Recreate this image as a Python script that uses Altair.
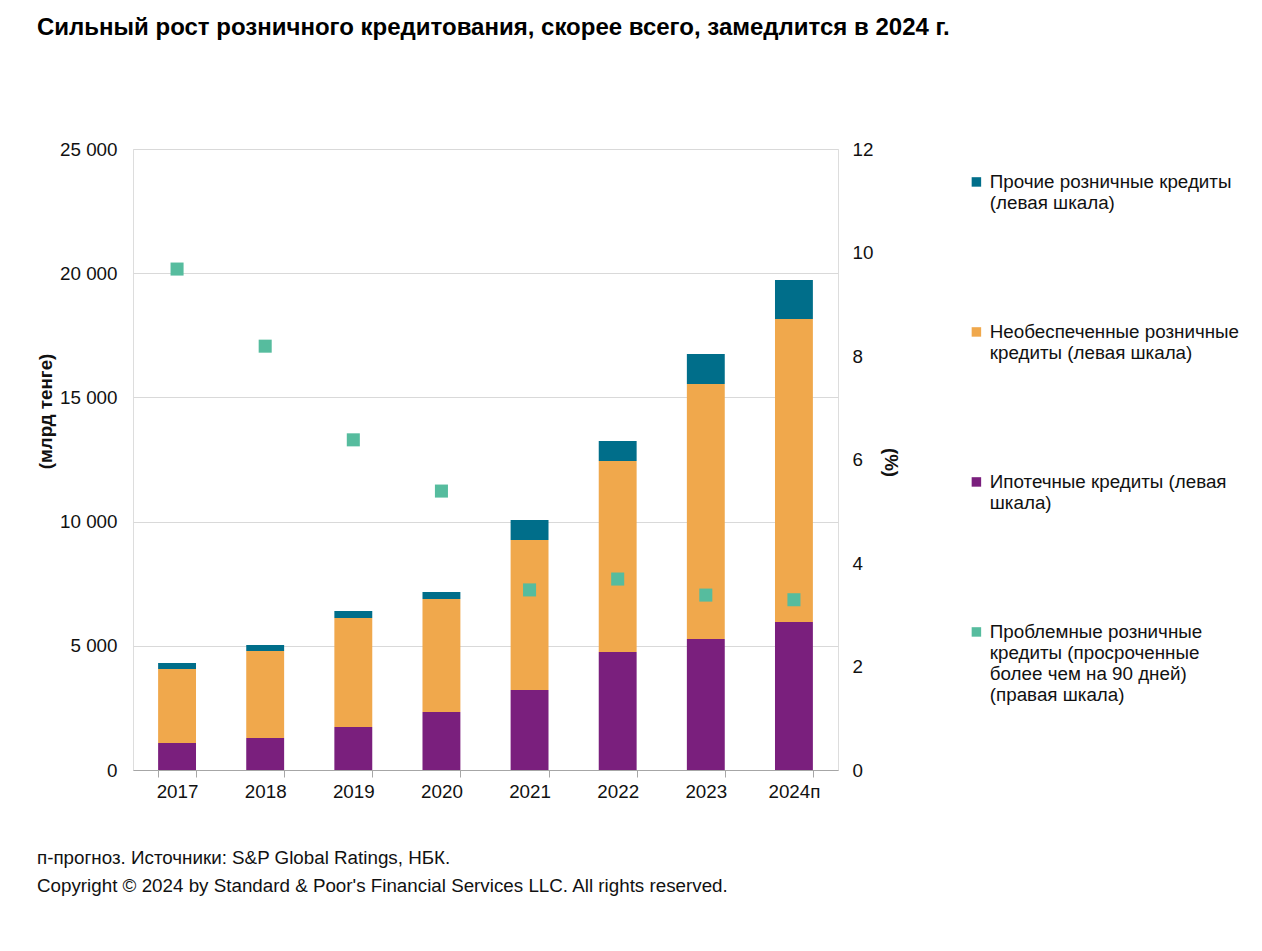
import altair as alt
import pandas as pd

years = ["2017", "2018", "2019", "2020", "2021", "2022", "2023", "2024п"]
mortgage = [1090, 1290, 1730, 2335, 3220, 4750, 5270, 5960]
unsecured = [2976, 3500, 4390, 4545, 6040, 7690, 10270, 12200]
other = [244, 240, 280, 285, 805, 805, 1210, 1570]
npl = [9.68, 8.19, 6.38, 5.39, 3.48, 3.69, 3.38, 3.29]

s_other = "Прочие розничные кредиты|(левая шкала)"
s_unsec = "Необеспеченные розничные|кредиты (левая шкала)"
s_mort = "Ипотечные кредиты (левая|шкала)"
s_npl = "Проблемные розничные|кредиты (просроченные|более чем на 90 дней)|(правая шкала)"
domain = [s_other, s_unsec, s_mort, s_npl]
colors = ["#006E8A", "#F0A84C", "#7A1F7D", "#56BC9E"]

rows = []
for i, y in enumerate(years):
    rows.append({"year": y, "series": s_mort, "value": mortgage[i], "ord": 0})
    rows.append({"year": y, "series": s_unsec, "value": unsecured[i], "ord": 1})
    rows.append({"year": y, "series": s_other, "value": other[i], "ord": 2})
bars_df = pd.DataFrame(rows)
npl_df = pd.DataFrame({"year": years, "series": s_npl, "npl": npl})

FONT = "Liberation Sans"
FS = 18.8

xenc = alt.X("year:N", sort=years, title=None,
             scale=alt.Scale(paddingInner=0.57, paddingOuter=0.285),
             axis=alt.Axis(labelAngle=0, labelFontSize=FS, labelFont=FONT, labelColor="#111",
                           domainColor="#A6A6A6", tickColor="#A6A6A6", tickSize=7, grid=False,
                           tickBand="extent", labelPadding=5))

color = alt.Color("series:N", scale=alt.Scale(domain=domain, range=colors),
                  legend=alt.Legend(title=None, orient="none", legendX=834, legendY=15,
                                    symbolType="M-1,0.8H1V2.8H-1Z", symbolSize=90,
                                    symbolStrokeWidth=0,
                                    labelFontSize=FS, labelFont=FONT, labelColor="#111",
                                    labelLimit=0, labelExpr="split(datum.label, '|')",
                                    labelBaseline="top", labelOffset=4,
                                    rowPadding=59, gridAlign="all", direction="vertical"))

bars = alt.Chart(bars_df).mark_bar().encode(
    x=xenc,
    y=alt.Y("value:Q", stack="zero", title="(млрд тенге)",
            scale=alt.Scale(domain=[0, 25000]),
            axis=alt.Axis(values=[0, 5000, 10000, 15000, 20000, 25000],
                          labelExpr="replace(format(datum.value, ','), ',', ' ')",
                          labelFontSize=FS, labelFont=FONT, labelColor="#111", labelPadding=16,
                          ticks=False, domain=False, gridColor="#D9D9D9",
                          titleFontSize=FS, titleFont=FONT, titleFontWeight="bold",
                          titleColor="#111", titleAngle=-90, titleX=-88, titleY=262,
                          titleAlign="center", titleBaseline="middle")),
    color=color,
    order=alt.Order("ord:Q"),
)

points = alt.Chart(npl_df).mark_point(shape="square", filled=True, size=170, opacity=1).encode(
    x=alt.X("year:N", sort=years),
    y=alt.Y("npl:Q", title="(%)", scale=alt.Scale(domain=[0, 12]),
            axis=alt.Axis(orient="right", values=[0, 2, 4, 6, 8, 10, 12], grid=False,
                          labelFontSize=FS, labelFont=FONT, labelColor="#111", labelPadding=14,
                          ticks=False, domain=False,
                          titleFontSize=FS, titleFont=FONT, titleFontWeight="bold",
                          titleColor="#111", titleAngle=90, titleX=52, titleY=313,
                          titleAlign="center", titleBaseline="middle")),
    color=color,
)

notes_df = pd.DataFrame({"t": ["п-прогноз. Источники: S&P Global Ratings, НБК."]})
note1 = alt.Chart(notes_df).mark_text(align="left", baseline="middle", fontSize=FS, font=FONT,
                                      color="#111").encode(
    x=alt.value(-96), y=alt.value(709), text="t:N")
notes_df2 = pd.DataFrame({"t": ["Copyright © 2024 by Standard & Poor's Financial Services LLC. All rights reserved."]})
note2 = alt.Chart(notes_df2).mark_text(align="left", baseline="middle", fontSize=FS, font=FONT,
                                       color="#111").encode(
    x=alt.value(-96), y=alt.value(737), text="t:N")

chart = alt.layer(bars, points, note1, note2).resolve_scale(y="independent").properties(
    width=705, height=621,
    autosize=alt.AutoSizeParams(type="none"),
    padding={"left": 125, "top": 141, "right": 410, "bottom": 150},
    title=alt.TitleParams("Сильный рост розничного кредитования, скорее всего, замедлится в 2024 г.",
                          anchor="start", dx=-96, offset=100, fontSize=24, font=FONT,
                          fontWeight="bold", color="#000", frame="group"),
).configure_view(stroke=None).configure(background="white")

chart.save("out.html", embed_options={"renderer": "svg", "actions": False})
